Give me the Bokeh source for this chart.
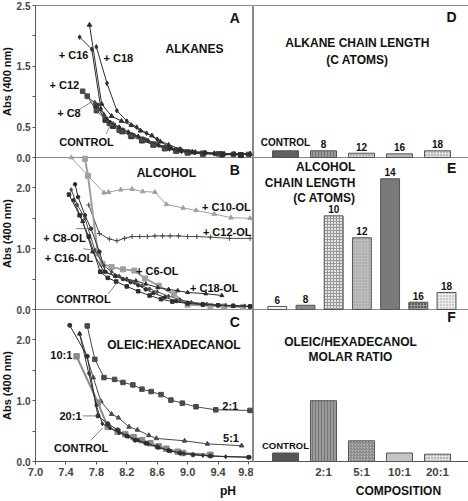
import math
from bokeh.plotting import figure
from bokeh.layouts import row, column
from bokeh.models import Label, FixedTicker, NumeralTickFormatter, Range1d, Grid
from bokeh.embed import file_html
from bokeh.resources import INLINE

FONT = "Liberation Sans"
DARK = "#2e2e2e"
MID = "#4a4a4a"
GRAY = "#8a8a8a"
LIGHT = "#a0a0a0"

# ---------------- Panel A: alkanes ----------------
a_control_ph = [7.80, 7.92, 8.02, 8.14, 8.26, 8.40, 8.55, 8.70, 8.85, 9.00, 9.20, 9.45, 9.70]
a_control_abs = [0.85, 0.62, 0.52, 0.43, 0.35, 0.28, 0.21, 0.15, 0.11, 0.08, 0.06, 0.05, 0.04]
a_c8_ph = [7.68, 7.78, 7.90, 8.02, 8.15, 8.30, 8.45, 8.60, 8.75, 8.92, 9.10, 9.35, 9.60, 9.82]
a_c8_abs = [1.00, 0.90, 0.70, 0.55, 0.45, 0.36, 0.29, 0.22, 0.16, 0.12, 0.09, 0.07, 0.06, 0.05]
a_c12_ph = [7.62, 7.68, 7.80, 7.97, 8.10, 8.25, 8.40, 8.55, 8.70, 8.85, 9.00, 9.20, 9.40, 9.60, 9.80]
a_c12_abs = [1.09, 1.01, 0.77, 0.56, 0.45, 0.37, 0.30, 0.22, 0.16, 0.12, 0.09, 0.07, 0.06, 0.05, 0.05]
a_c16_ph = [7.58, 7.74, 7.86, 7.98, 8.10, 8.22, 8.35, 8.48, 8.62, 8.76, 8.92, 9.10, 9.35, 9.60, 9.82]
a_c16_abs = [1.98, 1.78, 0.80, 0.58, 0.50, 0.42, 0.35, 0.28, 0.20, 0.14, 0.10, 0.08, 0.06, 0.05, 0.05]
a_tri_ph = [7.71, 7.87, 8.00, 8.13, 8.26, 8.38, 8.53, 8.64, 8.78, 8.90, 9.07, 9.22, 9.48, 9.82]
a_tri_abs = [2.18, 0.88, 0.68, 0.60, 0.53, 0.44, 0.36, 0.26, 0.16, 0.11, 0.08, 0.07, 0.06, 0.06]
a_c18_ph = [7.80, 7.94, 8.07, 8.20, 8.33, 8.46, 8.60, 8.75, 8.90, 9.06, 9.24, 9.44, 9.62, 9.82]
a_c18_abs = [1.82, 1.22, 0.77, 0.60, 0.50, 0.40, 0.30, 0.21, 0.14, 0.10, 0.08, 0.07, 0.06, 0.06]

# ---------------- Panel B: alcohols ----------------
b_c10_ph = [7.47, 7.69, 7.90, 7.96, 8.12, 8.27, 8.41, 8.57, 8.72, 8.94, 9.11, 9.35, 9.57, 9.82]
b_c10_abs = [2.50, 2.20, 1.92, 1.93, 1.97, 1.98, 1.94, 1.93, 1.73, 1.67, 1.63, 1.57, 1.51, 1.50]
b_c12_ph = [7.70, 7.84, 7.97, 8.07, 8.17, 8.27, 8.37, 8.47, 8.57, 8.67, 8.77, 8.88, 9.00, 9.12, 9.30, 9.55, 9.82]
b_c12_abs = [1.72, 1.25, 1.16, 1.13, 1.17, 1.20, 1.20, 1.20, 1.21, 1.21, 1.21, 1.21, 1.20, 1.20, 1.19, 1.17, 1.17]
b_c6_ph = [7.65, 7.69, 7.82, 7.88, 8.00, 8.15, 8.30, 8.44, 8.62, 8.82, 9.00, 9.30, 9.48, 9.73]
b_c6_abs = [2.48, 2.20, 0.92, 0.75, 0.70, 0.66, 0.64, 0.51, 0.39, 0.25, 0.08, 0.06, 0.05, 0.04]
b_c18_ph = [7.50, 7.62, 7.75, 7.90, 8.05, 8.20, 8.32, 8.45, 8.61, 8.75, 8.87, 9.00, 9.24, 9.45]
b_c18_abs = [1.80, 1.45, 0.95, 0.62, 0.55, 0.50, 0.47, 0.42, 0.36, 0.33, 0.31, 0.28, 0.26, 0.23]
b_c8_ph = [7.52, 7.56, 7.65, 7.73, 7.84, 7.92, 8.05, 8.15, 8.25, 8.35, 8.45, 8.55, 8.70, 8.85, 9.00, 9.20, 9.40, 9.60, 9.82]
b_c8_abs = [2.06, 1.85, 1.55, 1.33, 0.95, 0.62, 0.55, 0.50, 0.45, 0.40, 0.33, 0.27, 0.20, 0.14, 0.11, 0.09, 0.07, 0.06, 0.05]
b_c16_ph = [7.47, 7.55, 7.65, 7.78, 7.90, 8.00, 8.10, 8.20, 8.30, 8.40, 8.50, 8.60, 8.75, 8.90, 9.05, 9.25, 9.50, 9.75]
b_c16_abs = [1.97, 1.72, 1.50, 0.98, 0.72, 0.62, 0.55, 0.49, 0.44, 0.39, 0.34, 0.29, 0.22, 0.16, 0.12, 0.09, 0.07, 0.06]
b_control_ph = [7.44, 7.58, 7.70, 7.85, 7.95, 8.06, 8.20, 8.35, 8.50, 8.65, 8.80, 9.00, 9.20, 9.40, 9.60, 9.82]
b_control_abs = [1.89, 1.55, 1.20, 0.62, 0.52, 0.46, 0.38, 0.30, 0.23, 0.17, 0.13, 0.10, 0.08, 0.07, 0.06, 0.05]

# ---------------- Panel C: oleic:hexadecanol ----------------
c_21_ph = [7.68, 7.78, 7.90, 8.04, 8.15, 8.28, 8.40, 8.52, 8.65, 8.78, 8.93, 9.11, 9.37, 9.82]
c_21_abs = [2.23, 1.68, 1.38, 1.35, 1.30, 1.26, 1.19, 1.15, 1.10, 1.01, 0.96, 0.90, 0.85, 0.84]
c_51_ph = [7.58, 7.76, 7.86, 8.00, 8.09, 8.23, 8.34, 8.49, 8.59, 8.96, 9.26, 9.71]
c_51_abs = [2.10, 1.38, 0.99, 0.78, 0.72, 0.57, 0.52, 0.43, 0.38, 0.34, 0.29, 0.26]
c_101_ph = [7.54, 7.82, 7.95, 8.08, 8.18, 8.29, 8.40, 8.51, 8.62, 8.72, 8.87, 8.94, 9.30]
c_101_abs = [1.73, 0.97, 0.57, 0.49, 0.45, 0.40, 0.35, 0.30, 0.25, 0.21, 0.16, 0.14, 0.11]
c_201_ph = [7.45, 7.68, 7.82, 7.95, 8.08, 8.20, 8.31, 8.45, 8.60, 8.75, 8.90, 9.07, 9.30, 9.80]
c_201_abs = [2.24, 1.73, 0.75, 0.62, 0.52, 0.42, 0.35, 0.30, 0.24, 0.18, 0.14, 0.11, 0.09, 0.07]
c_control_ph = [7.58, 7.70, 7.80, 7.88, 7.98, 8.10, 8.22, 8.35, 8.48, 8.62, 8.78, 8.95, 9.20, 9.50, 9.82]
c_control_abs = [2.10, 1.45, 0.92, 0.62, 0.55, 0.47, 0.41, 0.35, 0.29, 0.23, 0.17, 0.13, 0.10, 0.08, 0.07]

# ---------------- Bar panels ----------------
d_cats = ["CONTROL", "8", "12", "16", "18"]
d_vals = [0.11, 0.11, 0.07, 0.06, 0.11]
e_cats = ["6", "8", "10", "12", "14", "16", "18"]
e_vals = [0.05, 0.07, 1.54, 1.18, 2.15, 0.12, 0.28]
f_cats = ["CONTROL", "2:1", "5:1", "10:1", "20:1"]
f_vals = [0.14, 1.00, 0.34, 0.14, 0.12]

ph_ticks = [7.0, 7.4, 7.8, 8.2, 8.6, 9.0, 9.4, 9.8]
abs_labeled = {"a": [0.0, 0.5, 1.5, 2.5], "b": [0.0, 1.0, 2.0], "c": [0.0, 1.0, 2.0]}
abs_minor = {"a": [1.0, 2.0], "b": [0.5, 1.5], "c": [0.5, 1.5]}

# ---------------- layout (pixels / panel stacking) ----------------
YLW = 13                 # strip holding the rotated y titles
LBL = 19                 # left border for tick labels
LFW, RFW = 218, 215
PH = 152                 # height of each stacked panel
TOPB, BOTB = 5, 20
SPAN = 2.5               # absorbance span of each panel
OFF = {"a": 2 * SPAN, "b": SPAN, "c": 0.0}
PH_XR = (7.0, 9.866)
BAR_XR = (0.158, 5.816)
E_XR = (0.156, 7.78)


def blank(p):
    for r in p.center:
        if isinstance(r, Grid):
            r.visible = False
    p.background_fill_color = "white"
    p.border_fill_color = "white"


def clean(p):
    blank(p)
    p.outline_line_color = "#8a8a8a"
    p.extra_y_ranges = {k: Range1d(-OFF[k], 3 * SPAN - OFF[k]) for k in ("a", "b", "c")}
    p.hspan(y=[SPAN, 2 * SPAN], line_color="#8a8a8a", line_width=1)


def lab(p, x, y, text, yr="default", size="11px", align="center", baseline="middle", xr="default", angle=0.0):
    p.add_layout(Label(x=x, y=y, text=text, text_font=FONT, text_font_size=size,
                       text_font_style="bold", text_align=align, text_baseline=baseline,
                       text_color="#111111", y_range_name=yr, x_range_name=xr, angle=angle))


def series(p, yr, xs, ys, marker, color, lw=1.0, size=4.5):
    p.line(xs, ys, line_color=color, line_width=lw, y_range_name=yr)
    p.scatter(xs, ys, marker=marker, size=size, fill_color=color, line_color=color, y_range_name=yr)


# ================= y-title strip =================
py = figure(frame_width=YLW, frame_height=3 * PH, x_range=Range1d(0, 1), y_range=Range1d(0, 3 * SPAN),
            x_axis_location=None, y_axis_location=None, output_backend="svg", toolbar_location=None,
            min_border_left=0, min_border_right=0, min_border_top=TOPB, min_border_bottom=BOTB)
blank(py)
py.outline_line_color = None
for k in ("a", "b", "c"):
    lab(py, 0.5, SPAN / 2 + OFF[k], "Abs (400 nm)", size="11px", angle=math.pi / 2)

# ================= left column (A, B, C) =================
pl = figure(frame_width=LFW, frame_height=3 * PH, x_range=Range1d(*PH_XR), y_range=Range1d(0, 3 * SPAN),
            output_backend="svg", toolbar_location=None, min_border_left=LBL, min_border_right=0,
            min_border_top=TOPB, min_border_bottom=BOTB)
clean(pl)

ticks, minors, overrides = [], [], {}
for k in ("a", "b", "c"):
    for t in abs_labeled[k]:
        ticks.append(t + OFF[k])
        overrides[t + OFF[k]] = "%.1f" % t
    minors += [t + OFF[k] for t in abs_minor[k]]
ya = pl.yaxis[0]
ya.ticker = FixedTicker(ticks=sorted(ticks), minor_ticks=sorted(minors))
ya.major_label_overrides = overrides
ya.major_label_text_font = FONT
ya.major_label_text_font_style = "bold"
ya.major_label_text_font_size = "10px"
ya.major_label_standoff = 2
ya.major_tick_out = 3
ya.major_tick_in = 0
ya.minor_tick_out = 3
ya.minor_tick_in = 0
ya.axis_line_color = "#555555"
ya.major_tick_line_color = "#555555"
ya.minor_tick_line_color = "#555555"

xa = pl.xaxis[0]
xa.ticker = FixedTicker(ticks=ph_ticks)
xa.formatter = NumeralTickFormatter(format="0.0")
xa.major_label_text_font = FONT
xa.major_label_text_font_style = "bold"
xa.major_label_text_font_size = "11px"
xa.major_label_standoff = 3
xa.major_tick_out = 3
xa.major_tick_in = 0
xa.axis_line_color = "#555555"
xa.major_tick_line_color = "#555555"

# ---------- A ----------
series(pl, "a", a_control_ph, a_control_abs, "square", DARK, size=5)
series(pl, "a", a_c8_ph, a_c8_abs, "diamond", MID, size=5)
series(pl, "a", a_c12_ph, a_c12_abs, "square", MID, size=4.5)
series(pl, "a", a_c16_ph, a_c16_abs, "diamond", DARK, size=4.5)
series(pl, "a", a_tri_ph, a_tri_abs, "triangle", DARK, size=4.5)
series(pl, "a", a_c18_ph, a_c18_abs, "diamond", DARK, size=4.5)
pl.segment(x0=[7.56, 7.93], y0=[0.78, 0.39], x1=[7.76, 8.00], y1=[0.93, 0.58],
           line_color="#666666", line_width=0.8, y_range_name="a")
lab(pl, 7.50, 1.68, "+ C16", "a")
lab(pl, 8.09, 1.63, "+ C18", "a")
lab(pl, 7.38, 1.20, "+ C12", "a")
lab(pl, 7.44, 0.73, "+ C8", "a")
lab(pl, 7.67, 0.25, "CONTROL", "a")
lab(pl, 9.09, 1.78, "ALKANES", "a", size="12px")
lab(pl, 9.62, 2.30, "A", "a", size="14px")

# ---------- B ----------
series(pl, "b", b_c10_ph, b_c10_abs, "triangle", LIGHT, size=4.5)
series(pl, "b", b_c12_ph, b_c12_abs, "cross", MID, size=5)
series(pl, "b", b_c6_ph, b_c6_abs, "square_x", LIGHT, lw=2.0, size=5)
series(pl, "b", b_c18_ph, b_c18_abs, "triangle", DARK, size=4)
series(pl, "b", b_c8_ph, b_c8_abs, "circle", DARK, size=3.5)
series(pl, "b", b_c16_ph, b_c16_abs, "diamond", MID, size=4)
series(pl, "b", b_control_ph, b_control_abs, "square", DARK, size=3.5)
pl.segment(x0=[7.53, 7.63, 7.95], y0=[1.33, 1.00, 0.25], x1=[7.73, 7.78, 8.08], y1=[1.33, 0.97, 0.45],
           line_color="#666666", line_width=0.8, y_range_name="b")
lab(pl, 9.51, 1.69, "+ C10-OL", "b")
lab(pl, 9.52, 1.27, "+ C12-OL", "b")
lab(pl, 7.38, 1.18, "+ C8-OL", "b")
lab(pl, 7.44, 0.85, "+ C16-OL", "b")
lab(pl, 8.60, 0.64, "+ C6-OL", "b")
lab(pl, 9.35, 0.35, "+ C18-OL", "b")
lab(pl, 7.63, 0.17, "CONTROL", "b")
lab(pl, 8.72, 2.24, "ALCOHOL", "b", size="12px")
lab(pl, 9.62, 2.29, "B", "b", size="14px")

# ---------- C ----------
series(pl, "c", c_21_ph, c_21_abs, "square", MID, size=4.5)
series(pl, "c", c_51_ph, c_51_abs, "triangle", MID, size=4.5)
series(pl, "c", c_101_ph, c_101_abs, "square", GRAY, lw=2.0, size=5.5)
series(pl, "c", c_201_ph, c_201_abs, "circle", DARK, size=4)
series(pl, "c", c_control_ph, c_control_abs, "diamond", DARK, size=4)
pl.segment(x0=[7.62, 7.73], y0=[0.75, 0.35], x1=[7.82, 7.88], y1=[0.75, 0.55],
           line_color="#666666", line_width=0.8, y_range_name="c")
lab(pl, 7.34, 1.75, "10:1", "c")
lab(pl, 7.46, 0.75, "20:1", "c")
lab(pl, 7.60, 0.23, "CONTROL", "c")
lab(pl, 9.56, 0.92, "2:1", "c")
lab(pl, 9.57, 0.39, "5:1", "c")
lab(pl, 8.82, 1.92, "OLEIC:HEXADECANOL", "c", size="12px")
lab(pl, 9.62, 2.30, "C", "c", size="14px")

# ================= right column (D, E, F) =================
pr = figure(frame_width=RFW, frame_height=3 * PH, x_range=Range1d(*BAR_XR), y_range=Range1d(0, 3 * SPAN),
            y_axis_location=None, output_backend="svg", toolbar_location=None,
            min_border_left=0, min_border_right=2, min_border_top=TOPB, min_border_bottom=BOTB)
clean(pr)
pr.extra_x_ranges = {"e": Range1d(*E_XR)}

d_x = list(range(1, len(d_cats) + 1))
e_x = list(range(1, len(e_cats) + 1))
f_x = list(range(1, len(f_cats) + 1))

# ---------- D ----------
pr.vbar(x=d_x, top=d_vals, width=0.684, y_range_name="a",
        fill_color=["#606060", "#9a9a9a", "#d0d0d0", "#b8b8b8", "#e2e2e2"],
        hatch_pattern=[" ", "vertical_line", "dot", " ", "dot"], hatch_color="#777777", hatch_scale=3,
        line_color="#555555", line_width=1)
for xi, v, t in zip(d_x, d_vals, d_cats):
    lab(pr, xi, v + 0.04, t, "a", size="10px", baseline="bottom")
lab(pr, 2.89, 1.88, "ALKANE CHAIN LENGTH", "a", size="12px")
lab(pr, 2.89, 1.60, "(C ATOMS)", "a", size="12px")
lab(pr, 5.37, 2.31, "D", "a", size="14px")

# ---------- E ----------
pr.vbar(x=e_x, top=e_vals, width=0.67, x_range_name="e", y_range_name="b",
        fill_color=["#f0f0f0", "#8a8a8a", "#e4e4e4", "#bdbdbd", "#7a7a7a", "#5a5a5a", "#ececec"],
        hatch_pattern=[" ", " ", "cross", "dot", " ", "cross", "dot"], hatch_color="#999999", hatch_scale=3,
        line_color="#555555", line_width=1)
for xi, v, t in zip(e_x, e_vals, e_cats):
    lab(pr, xi, v + 0.04, t, "b", size="10px", baseline="bottom", xr="e")
lab(pr, 3.77, 2.35, "ALCOHOL", "b", size="12px", align="right", xr="e")
lab(pr, 3.77, 2.08, "CHAIN LENGTH", "b", size="12px", align="right", xr="e")
lab(pr, 3.77, 1.83, "(C ATOMS)", "b", size="12px", align="right", xr="e")
lab(pr, 7.18, 2.33, "E", "b", size="14px", xr="e")

# ---------- F ----------
pr.vbar(x=f_x, top=f_vals, width=0.684, y_range_name="c",
        fill_color=["#555555", "#9a9a9a", "#bcbcbc", "#c4c4c4", "#e2e2e2"],
        hatch_pattern=[" ", "vertical_line", "right_diagonal_line", " ", "dot"], hatch_color="#777777",
        hatch_scale=3, line_color="#555555", line_width=1)
lab(pr, f_x[0], f_vals[0] + 0.04, f_cats[0], "c", size="9.5px", baseline="bottom")
fx = pr.xaxis[0]
fx.ticker = FixedTicker(ticks=f_x[1:])
fx.major_label_overrides = {xi: t for xi, t in zip(f_x[1:], f_cats[1:])}
fx.major_label_text_font = FONT
fx.major_label_text_font_style = "bold"
fx.major_label_text_font_size = "11.5px"
fx.major_label_standoff = 4
fx.major_tick_out = 0
fx.major_tick_in = 0
fx.axis_line_color = "#555555"
lab(pr, 2.71, 1.97, "OLEIC/HEXADECANOL", "c", size="12px")
lab(pr, 2.71, 1.72, "MOLAR RATIO", "c", size="12px")
lab(pr, 5.37, 2.37, "F", "c", size="14px")

# ================= bottom strip holding the axis titles =================
TOTW = YLW + LBL + LFW + RFW + 2
pb = figure(frame_width=TOTW, frame_height=18, x_range=Range1d(0, TOTW), y_range=Range1d(0, 1),
            x_axis_location=None, y_axis_location=None, output_backend="svg", toolbar_location=None,
            min_border=0)
blank(pb)
pb.outline_line_color = None
ph_x = YLW + LBL + (9.57 - PH_XR[0]) / (PH_XR[1] - PH_XR[0]) * LFW
comp_x = YLW + LBL + LFW + (4.05 - BAR_XR[0]) / (BAR_XR[1] - BAR_XR[0]) * RFW
lab(pb, ph_x, 0.5, "pH", size="12px")
lab(pb, comp_x, 0.5, "COMPOSITION", size="12px")

root = column(row(py, pl, pr), pb)
open("out.html", "w").write(file_html(root, INLINE))
